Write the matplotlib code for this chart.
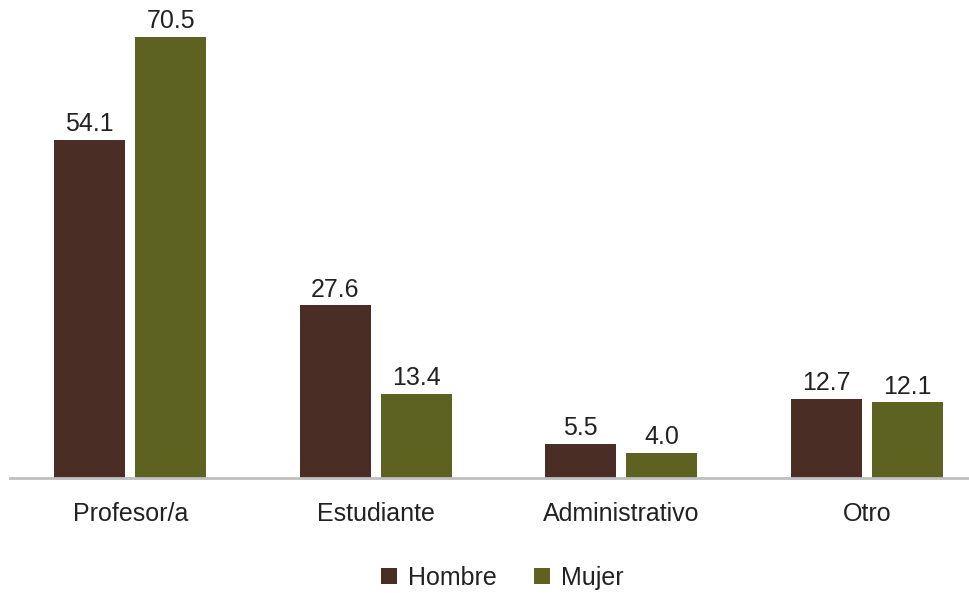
import matplotlib.pyplot as plt
import numpy as np

categories = ["Profesor/a", "Estudiante", "Administrativo", "Otro"]
hombre = [54.1, 27.6, 5.5, 12.7]
mujer = [70.5, 13.4, 4.0, 12.1]

plt.rcParams['font.family'] = ['Liberation Sans', 'DejaVu Sans']
fs = 18

fig = plt.figure(figsize=(9.7, 5.93), dpi=100)
ax = fig.add_axes([0.0103, 0.194, 0.9897, 0.806])

x = np.arange(len(categories))
w = 0.29
off = 0.165
b1 = ax.bar(x - off, hombre, w, color="#4a2e26", label="Hombre")
b2 = ax.bar(x + off, mujer, w, color="#5e6220", label="Mujer")

for bars, vals in ((b1, hombre), (b2, mujer)):
    for b, v in zip(bars, vals):
        ax.text(b.get_x() + b.get_width() / 2, v + 0.6, f"{v:.1f}",
                ha="center", va="bottom", fontsize=fs, color="#222222")

ax.set_xlim(-0.49, 3.42)
ax.set_ylim(0, 76.4)
ax.set_yticks([])
ax.set_xticks(x)
ax.set_xticklabels(categories, fontsize=fs, color="#222222")
ax.tick_params(axis="x", length=0, pad=17)
for s in ("top", "right", "left"):
    ax.spines[s].set_visible(False)
ax.spines["bottom"].set_color("#bfbfbf")
ax.spines["bottom"].set_linewidth(2)

fig.legend(loc="center", bbox_to_anchor=(0.518, 0.025), ncol=2, frameon=False,
           fontsize=fs, handlelength=0.62, handleheight=0.62, handletextpad=0.45,
           columnspacing=1.5, labelcolor="#222222")

fig.savefig("out.png", dpi=100)
